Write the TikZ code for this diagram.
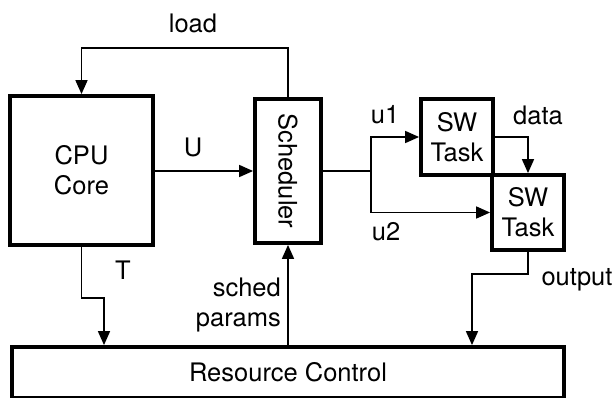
\documentclass[tikz,border=0pt]{standalone}
\usepackage{fontspec}
\setmainfont{TeX Gyre Heros}
\usetikzlibrary{arrows.meta}
\begin{document}
\begin{tikzpicture}[x=1pt,y=-1pt,
  box/.style={draw,line width=3.8pt,inner sep=0pt,align=center,font=\fontsize{25.5}{30}\selectfont},
  lbl/.style={inner sep=0pt,align=center,font=\fontsize{25.5}{30}\selectfont},
  conn/.style={line width=1.6pt},
  arr/.style={conn,-{Triangle[length=14pt,width=12pt]}}]
\useasboundingbox (0,0) rectangle (616,397);
\node[box,minimum width=143pt,minimum height=149pt] (cpu) at (81.5,170.5) {CPU\\Core};
\node[box,minimum width=66pt,minimum height=144pt] (sched) at (288,171) {};
\node[lbl,rotate=-90] (schedtxt) at (288,171) {Scheduler};
\node[box,minimum width=72pt,minimum height=76pt] (sw1) at (457,137) {SW\\Task};
\node[box,minimum width=72pt,minimum height=75pt] (sw2) at (528,212.5) {SW\\Task};
\node[box,minimum width=552pt,minimum height=51pt] (rc) at (288,372.5) {Resource Control};
% labels
\node[lbl] (lload) at (193,23) {load};
\node[lbl] (lU) at (193,147) {U};
\node[lbl] (lu1) at (385,115) {u1};
\node[lbl] (lu2) at (386,232) {u2};
\node[lbl] (ldata) at (538,115) {data};
\node[lbl] (lT) at (123,270) {T};
\node[lbl] (lout) at (577,280) {output};
\node[lbl,align=right,anchor=east] (lsp) at (281,305) {sched\\params};
% coordinates
\coordinate (ltop) at (288,48);
\coordinate (j) at (371,171);
\coordinate (o2) at (472,274);
\coordinate (t2) at (104,298);
% connectors
\draw[arr] (sched.north) -- (ltop) -| (cpu.north);
\draw[arr] (cpu.east |- sched.west) -- (sched.west);
\draw[conn] (sched.east) -- (j);
\draw[arr] (j) |- (sw1.west);
\draw[arr] (j) |- (sw2.west);
\draw[arr] (sw1.east) -| (sw2.north);
\draw[arr] (sw2.south) |- (o2) -- (o2 |- rc.north);
\draw[arr] (cpu.south) |- (t2) -- (t2 |- rc.north);
\draw[arr] (sched.south |- rc.north) -- (sched.south);
\end{tikzpicture}
\end{document}
